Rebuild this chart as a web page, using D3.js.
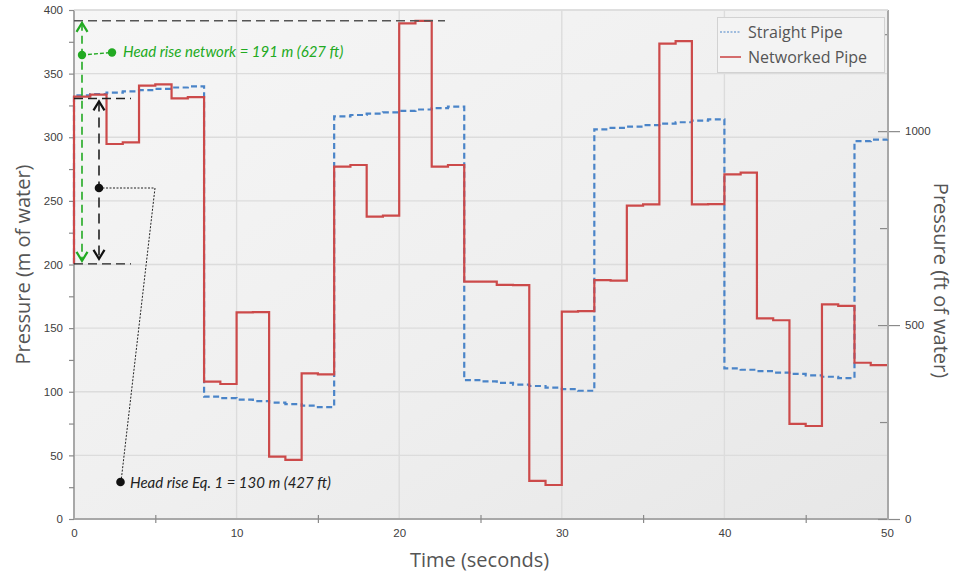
<!DOCTYPE html>
<html>
<head>
<meta charset="utf-8">
<script src="https://cdn.jsdelivr.net/npm/d3@7"></script>
<style>
  body { margin: 0; background: #ffffff; }
  svg { display: block; }
</style>
</head>
<body>
<svg id="chart" width="956" height="575"></svg>
<script>
// ---- data -------------------------------------------------------------
// sample times (s); each value holds until the next sample
const timeSeconds = [0, 1, 2, 3, 4, 5, 6, 7, 8, 9, 10, 11, 12, 13, 14, 15, 16, 17, 18, 19,
  20, 21, 22, 23, 24, 25, 26, 27, 28, 29, 30, 31, 32, 33, 34, 35, 36, 37, 38, 39,
  40, 41, 42, 43, 44, 45, 46, 47, 48, 49, 50];

// pressure head, m of water
const networkedPipe = [332, 333.5, 294.7, 296, 340.5, 341.6, 330.6, 331.5, 107.9, 106.1,
  162.4, 162.6, 49, 46.4, 114.5, 113.7, 276.9, 278.2, 237.6, 238.4,
  389.5, 391.5, 276.9, 278.2, 186.5, 186.5, 184, 183.8, 29.9, 26.7,
  162.9, 163.4, 187.8, 187.3, 246.2, 247.3, 373.5, 375.6, 247.3, 247.5,
  270.9, 272.2, 157.7, 156.2, 74.7, 73.1, 168.7, 167.5, 122.8, 121, 121];

const straightPipe = [333, 334, 335, 336.1, 337, 338, 339.1, 340, 96.1, 95, 93.8, 92.7,
  91.4, 90.3, 89.1, 87.9, 316.4, 317.5, 318.6, 319.6, 320.8, 321.8, 322.9, 324,
  109.2, 108.1, 106.9, 105.6, 104.5, 103.2, 102, 100.8, 306.2, 307.3, 308.4, 309.6,
  310.7, 311.8, 313, 314.1, 118.4, 117.3, 116.2, 115.1, 114, 112.8, 111.8, 110.7,
  296.9, 298.1, 298.4];

// steady pressure before the transient starts, m
const initialPressure = 200.5;

const seriesNames = ["Straight Pipe", "Networked Pipe"];

// axis ticks
const pressureLabelTicks = [0, 50, 100, 150, 200, 250, 300, 350, 400];
const pressureMinorTicks = [25, 75, 125, 175, 225, 275, 325, 375];
const feetLabelTicks = [0, 500, 1000];
const feetMinorTicks = [250, 750, 1250];
const timeLabelTicks = [0, 10, 20, 30, 40, 50];
const timeMinorTicks = [5, 15, 25, 35, 45];

// annotated levels, m
const baseLevel = 200.5;
const eqLevel = 330.5;
const networkPeak = 391.5;
const noteNetwork = "Head rise network = 191 m (627 ft)";
const noteEq = "Head rise Eq. 1 = 130 m (427 ft)";

const M_PER_FT = 0.3048;

// ---- layout -----------------------------------------------------------
const svg = d3.select("#chart");
const plotL = 74, plotR = 887, plotT = 10, plotB = 519;

const x = d3.scaleLinear().domain([0, 50]).range([plotL, plotR]);
const y = d3.scaleLinear().domain([0, 400]).range([plotB, plotT]);
const yFt = d3.scaleLinear().domain([0, 400 / M_PER_FT]).range([plotB, plotT]);

const defs = svg.append("defs");
const grad = defs.append("linearGradient").attr("id", "plotBg")
  .attr("x1", "0").attr("y1", "0").attr("x2", "1").attr("y2", "1");
grad.append("stop").attr("offset", "0%").attr("stop-color", "#f6f6f6");
grad.append("stop").attr("offset", "55%").attr("stop-color", "#efefef");
grad.append("stop").attr("offset", "100%").attr("stop-color", "#e7e7e7");

// open "V" arrowheads, tip pointing along the line direction
function chevron(id, color) {
  const m = defs.append("marker").attr("id", id)
    .attr("viewBox", "0 0 14 14").attr("refX", 11).attr("refY", 7)
    .attr("markerWidth", 14).attr("markerHeight", 14)
    .attr("markerUnits", "userSpaceOnUse").attr("orient", "auto-start-reverse");
  m.append("path").attr("d", "M2,1.5 L11,7 L2,12.5").attr("fill", "none")
    .attr("stroke", color).attr("stroke-width", 2.2);
}
chevron("chevK", "#111");
chevron("chevG", "#22aa22");

// plot background
svg.append("rect").attr("x", plotL).attr("y", plotT)
  .attr("width", plotR + 1 - plotL).attr("height", plotB - plotT)
  .attr("fill", "url(#plotBg)");

// grid
const grid = svg.append("g").attr("stroke", "#dcdcdc").attr("stroke-width", 1.4);
grid.selectAll("line.h").data(pressureLabelTicks.filter(d => d > 0)).join("line")
  .attr("x1", plotL).attr("x2", plotR + 1)
  .attr("y1", d => y(d)).attr("y2", d => y(d));
grid.selectAll("line.v").data(timeLabelTicks.filter(d => d > 0 && d < 50)).join("line")
  .attr("y1", plotT).attr("y2", plotB)
  .attr("x1", d => x(d)).attr("x2", d => x(d));

// ---- axes -------------------------------------------------------------
const tickFont = "'Liberation Sans', Arial, sans-serif";

const yAxis = svg.append("g").attr("transform", `translate(${plotL},0)`)
  .call(d3.axisLeft(y).tickValues(pressureLabelTicks).tickSize(5).tickPadding(6));
const yMinor = svg.append("g").attr("transform", `translate(${plotL},0)`)
  .call(d3.axisLeft(y).tickValues(pressureMinorTicks).tickSize(5).tickFormat(""));
yMinor.select(".domain").remove();

const xAxis = svg.append("g").attr("transform", `translate(0,${plotB})`)
  .call(d3.axisBottom(x).tickValues(timeLabelTicks).tickSize(0).tickPadding(10));
const xMinor = svg.append("g").attr("transform", `translate(0,${plotB - 4})`)
  .call(d3.axisBottom(x).tickValues(timeMinorTicks).tickSize(8).tickFormat(""));
xMinor.select(".domain").remove();

const rAxis = svg.append("g").attr("transform", `translate(${plotR - 9},0)`)
  .call(d3.axisRight(yFt).tickValues(feetLabelTicks).tickSize(22).tickPadding(5)
    .tickFormat(d3.format("d")));
rAxis.select(".domain").remove();
const rMinor = svg.append("g").attr("transform", `translate(${plotR - 7},0)`)
  .call(d3.axisRight(yFt).tickValues(feetMinorTicks).tickSize(8).tickFormat(""));
rMinor.select(".domain").remove();

[yAxis, yMinor, xAxis, xMinor, rAxis, rMinor].forEach(g => {
  g.selectAll(".domain").attr("stroke", "#a8a8a8").attr("stroke-width", 2);
  g.selectAll(".tick line").attr("stroke", "#8a8a8a").attr("stroke-width", 1.2);
  g.selectAll(".tick text").attr("fill", "#404040")
    .style("font-family", tickFont).style("font-size", "11.5px");
});
xAxis.select(".domain").attr("d", `M${plotL},0H${plotR + 1}`);
yAxis.select(".domain").attr("d", `M0,${plotT}V${plotB}`);

// right-hand axis line
svg.append("line").attr("x1", plotR + 1).attr("x2", plotR + 1)
  .attr("y1", plotT).attr("y2", plotB + 1)
  .attr("stroke", "#a8a8a8").attr("stroke-width", 2);
// top border
svg.append("line").attr("x1", plotL).attr("x2", plotR + 1)
  .attr("y1", plotT).attr("y2", plotT)
  .attr("stroke", "#dcdcdc").attr("stroke-width", 1.4);

// axis titles
const titleFont = "'Open Sans', 'Noto Sans', sans-serif";
svg.append("text").attr("transform", `translate(30,${(plotT + plotB) / 2}) rotate(-90)`)
  .attr("text-anchor", "middle").attr("fill", "#555").style("font-family", titleFont)
  .style("font-size", "20px").text("Pressure (m of water)");
svg.append("text").attr("transform", `translate(934,${(plotT + plotB) / 2 + 16}) rotate(90)`)
  .attr("text-anchor", "middle").attr("fill", "#555").style("font-family", titleFont)
  .style("font-size", "20px").text("Pressure (ft of water)");
svg.append("text").attr("x", (plotL + plotR) / 2 - 1).attr("y", 567)
  .attr("text-anchor", "middle").attr("fill", "#555").style("font-family", titleFont)
  .style("font-size", "20px").text("Time (seconds)");

// ---- series -----------------------------------------------------------
const stepLine = d3.line().x(d => x(d[0])).y(d => y(d[1])).curve(d3.curveStepAfter);

const straightPts = [[0, initialPressure]].concat(timeSeconds.map((t, i) => [t, straightPipe[i]]));
const networkedPts = [[0, initialPressure]].concat(timeSeconds.map((t, i) => [t, networkedPipe[i]]));

svg.append("path").datum(straightPts).attr("d", stepLine)
  .attr("fill", "none").attr("stroke", "#4a84c8").attr("stroke-width", 2.2)
  .attr("stroke-dasharray", "6,3.5");
svg.append("path").datum(networkedPts).attr("d", stepLine)
  .attr("fill", "none").attr("stroke", "#cc4a4a").attr("stroke-width", 2.2)
  .attr("stroke-linejoin", "miter");

// ---- annotations ------------------------------------------------------
const ann = svg.append("g");
const dashK = "9,5";

// reference levels
ann.append("line").attr("x1", plotL).attr("x2", 445)
  .attr("y1", y(networkPeak)).attr("y2", y(networkPeak))
  .attr("stroke", "#555").attr("stroke-width", 1.5).attr("stroke-dasharray", dashK);
[eqLevel, baseLevel].forEach(v => {
  ann.append("line").attr("x1", plotL).attr("x2", 131)
    .attr("y1", y(v)).attr("y2", y(v))
    .attr("stroke", "#222").attr("stroke-width", 1.4).attr("stroke-dasharray", dashK);
});

// Eq. 1 head rise (black double arrow)
ann.append("line").attr("x1", 99).attr("x2", 99)
  .attr("y1", y(eqLevel) + 3).attr("y2", y(baseLevel) - 5)
  .attr("stroke", "#222").attr("stroke-width", 1.6).attr("stroke-dasharray", "10,6")
  .attr("marker-start", "url(#chevK)").attr("marker-end", "url(#chevK)");

// network head rise (green double arrow)
ann.append("line").attr("x1", 82).attr("x2", 82)
  .attr("y1", y(networkPeak) + 2).attr("y2", y(baseLevel) - 3)
  .attr("stroke", "#22aa22").attr("stroke-width", 1.6).attr("stroke-dasharray", "8,5")
  .attr("marker-start", "url(#chevG)").attr("marker-end", "url(#chevG)");

// green callout
ann.append("line").attr("x1", 82).attr("y1", 55).attr("x2", 112).attr("y2", 52.5)
  .attr("stroke", "#22aa22").attr("stroke-width", 1.3).attr("stroke-dasharray", "4,2");
ann.selectAll("circle.g").data([[82, 55], [112, 52.5]]).join("circle")
  .attr("cx", d => d[0]).attr("cy", d => d[1]).attr("r", 4.2).attr("fill", "#22aa22");
ann.append("text").attr("x", 123).attr("y", 57)
  .attr("fill", "#22aa22").style("font-family", "Lato, 'Open Sans', sans-serif")
  .style("font-style", "italic").style("font-size", "15px").text(noteNetwork);

// black callout
ann.append("path").attr("d", "M99,188 L155,188 L121,482")
  .attr("fill", "none").attr("stroke", "#222").attr("stroke-width", 1)
  .attr("stroke-dasharray", "2,1.5");
ann.selectAll("circle.k").data([[99, 188], [120.5, 482]]).join("circle")
  .attr("cx", d => d[0]).attr("cy", d => d[1]).attr("r", 4.3).attr("fill", "#111");
ann.append("text").attr("x", 130).attr("y", 488)
  .attr("fill", "#222").style("font-family", "Lato, 'Open Sans', sans-serif")
  .style("font-style", "italic").style("font-size", "15px").text(noteEq);

// ---- legend -----------------------------------------------------------
const lg = svg.append("g");
lg.append("rect").attr("x", 717.5).attr("y", 17.5).attr("width", 167).attr("height", 55)
  .attr("fill", "#f3f3f3").attr("stroke", "#d2d2d2").attr("stroke-width", 1);
const legendStyles = [
  { color: "#4a84c8", width: 1.2, dash: "2,1.5" },
  { color: "#cc4a4a", width: 1.6, dash: null }
];
seriesNames.forEach((name, i) => {
  const cy = 32 + i * 25;
  const st = legendStyles[i];
  lg.append("line").attr("x1", 720).attr("x2", 741).attr("y1", cy).attr("y2", cy)
    .attr("stroke", st.color).attr("stroke-width", st.width)
    .attr("stroke-dasharray", st.dash);
  lg.append("text").attr("x", 748).attr("y", cy + 6)
    .attr("fill", "#555").style("font-family", titleFont).style("font-size", "16px")
    .text(name);
});
</script>
</body>
</html>
